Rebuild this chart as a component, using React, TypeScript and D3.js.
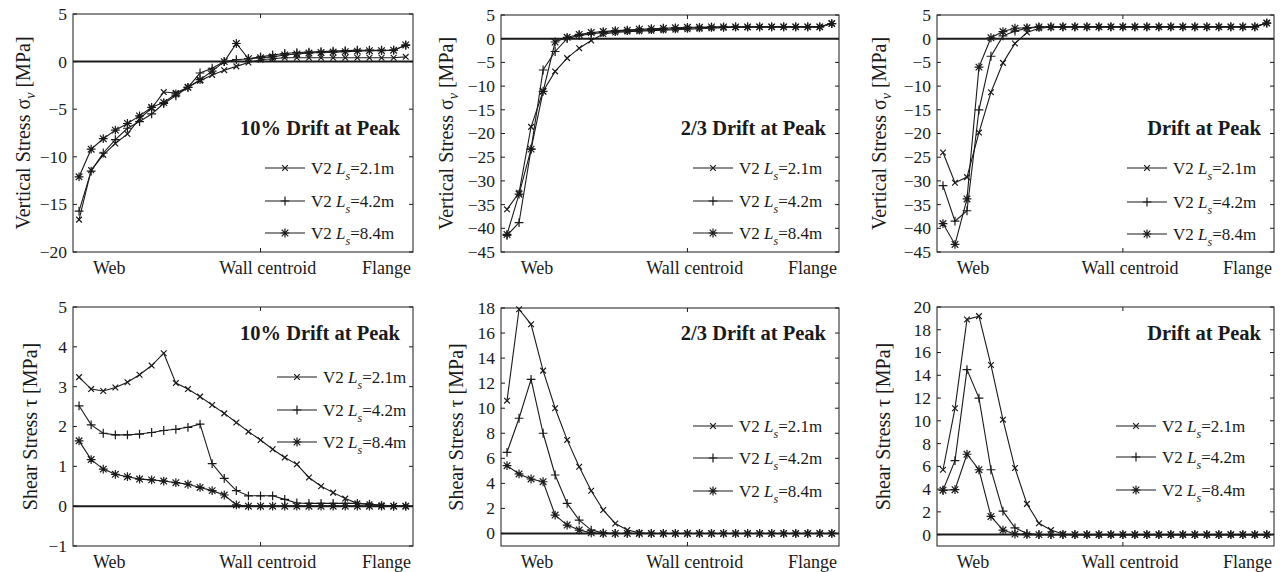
import React from "react";
import * as d3 from "d3";

// ---------- data ----------
const seriesNames = ["V2 Ls=2.1m", "V2 Ls=4.2m", "V2 Ls=8.4m"];
const seriesLabels = ["=2.1m", "=4.2m", "=8.4m"];
const markerTypes = ["x", "plus", "star"];
const xTickLabels = ["Web", "Wall centroid", "Flange"];
const xTickLabelPos = [2.5, 15.6, 25.4];
const xTickMark = 15;

// Panel 1: vertical stress, 10% drift at peak
const v10_21 = [-16.6, -11.4, -9.8, -8.6, -7.6, -6.0, -4.9, -3.2, -3.3, -2.7, -2.0, -1.4, -0.9, -0.5, -0.1, 0.2, 0.3, 0.4, 0.4, 0.4, 0.4, 0.4, 0.4, 0.4, 0.4, 0.4, 0.4, 0.5];
const v10_42 = [-15.7, -11.5, -9.6, -8.2, -7.0, -6.3, -5.5, -4.4, -3.6, -2.7, -1.2, -0.7, 0.0, 0.2, 0.3, 0.5, 0.7, 0.85, 0.95, 1.0, 1.05, 1.1, 1.15, 1.2, 1.2, 1.2, 1.2, 1.7];
const v10_84 = [-12.1, -9.2, -8.1, -7.2, -6.5, -5.7, -4.8, -4.3, -3.4, -2.7, -1.9, -1.0, 0.0, 1.9, 0.3, 0.4, 0.5, 0.7, 0.8, 0.9, 0.95, 1.0, 1.05, 1.1, 1.15, 1.15, 1.2, 1.75];

// Panel 2: vertical stress, 2/3 drift at peak
const v23_21 = [-36.0, -32.5, -18.6, -11.1, -6.9, -4.1, -2.0, -0.4, 1.0, 1.3, 1.5, 1.6, 1.7, 1.8, 1.9, 2.0, 2.1, 2.2, 2.3, 2.4, 2.4, 2.5, 2.5, 2.5, 2.5, 2.5, 2.5, 3.2];
const v23_42 = [-41.5, -38.8, -23.3, -6.6, -2.7, 0.0, 0.7, 1.0, 1.3, 1.5, 1.7, 1.8, 1.9, 2.0, 2.1, 2.2, 2.3, 2.4, 2.4, 2.5, 2.5, 2.5, 2.5, 2.5, 2.5, 2.5, 2.5, 3.2];
const v23_84 = [-41.3, -32.8, -23.3, -11.1, -0.7, 0.3, 0.9, 1.3, 1.5, 1.7, 1.8, 2.0, 2.1, 2.2, 2.3, 2.4, 2.4, 2.5, 2.5, 2.5, 2.5, 2.5, 2.5, 2.5, 2.5, 2.5, 2.5, 3.2];

// Panel 3: vertical stress, drift at peak
const vp_21 = [-24.0, -30.4, -29.2, -19.8, -11.3, -5.1, -1.0, 1.3, 2.2, 2.4, 2.5, 2.5, 2.5, 2.5, 2.5, 2.5, 2.5, 2.5, 2.5, 2.5, 2.5, 2.5, 2.5, 2.5, 2.5, 2.5, 2.5, 3.3];
const vp_42 = [-31.0, -38.5, -36.3, -15.0, -3.7, 0.6, 1.6, 2.2, 2.4, 2.5, 2.5, 2.5, 2.5, 2.5, 2.5, 2.5, 2.5, 2.5, 2.5, 2.5, 2.5, 2.5, 2.5, 2.5, 2.5, 2.5, 2.5, 3.3];
const vp_84 = [-39.0, -43.4, -33.8, -6.0, 0.2, 1.5, 2.2, 2.3, 2.5, 2.5, 2.5, 2.5, 2.5, 2.5, 2.5, 2.5, 2.5, 2.5, 2.5, 2.5, 2.5, 2.5, 2.5, 2.5, 2.5, 2.5, 2.5, 3.3];

// Panel 4: shear stress, 10% drift at peak
const s10_21 = [3.24, 2.94, 2.89, 2.98, 3.11, 3.30, 3.53, 3.84, 3.09, 2.94, 2.75, 2.54, 2.33, 2.10, 1.87, 1.66, 1.43, 1.22, 1.05, 0.72, 0.50, 0.34, 0.19, 0.07, 0.05, 0.02, 0.0, 0.0];
const s10_42 = [2.52, 2.04, 1.83, 1.79, 1.79, 1.81, 1.85, 1.90, 1.93, 1.98, 2.06, 1.07, 0.70, 0.39, 0.26, 0.26, 0.26, 0.17, 0.08, 0.07, 0.07, 0.07, 0.07, 0.07, 0.05, 0.02, 0.0, 0.0];
const s10_84 = [1.64, 1.17, 0.93, 0.80, 0.74, 0.68, 0.66, 0.63, 0.59, 0.55, 0.47, 0.39, 0.28, 0.03, 0.0, 0.0, 0.0, 0.0, 0.0, 0.0, 0.0, 0.0, 0.0, 0.0, 0.0, 0.0, 0.0, 0.0];

// Panel 5: shear stress, 2/3 drift at peak
const s23_21 = [10.6, 17.9, 16.7, 13.0, 10.0, 7.47, 5.33, 3.41, 1.87, 0.8, 0.27, 0.05, 0, 0, 0, 0, 0, 0, 0, 0, 0, 0, 0, 0, 0, 0, 0, 0];
const s23_42 = [6.48, 9.2, 12.3, 8.0, 4.67, 2.4, 1.07, 0.27, 0.05, 0, 0, 0, 0, 0, 0, 0, 0, 0, 0, 0, 0, 0, 0, 0, 0, 0, 0, 0];
const s23_84 = [5.41, 4.75, 4.35, 4.13, 1.47, 0.67, 0.27, 0.05, 0, 0, 0, 0, 0, 0, 0, 0, 0, 0, 0, 0, 0, 0, 0, 0, 0, 0, 0, 0];

// Panel 6: shear stress, drift at peak
const sp_21 = [5.7, 11.1, 18.9, 19.2, 14.9, 10.1, 5.85, 2.7, 1.0, 0.4, 0.05, 0, 0, 0, 0, 0, 0, 0, 0, 0, 0, 0, 0, 0, 0, 0, 0, 0];
const sp_42 = [3.9, 6.5, 14.5, 12.0, 5.7, 2.06, 0.6, 0.1, 0, 0, 0, 0, 0, 0, 0, 0, 0, 0, 0, 0, 0, 0, 0, 0, 0, 0, 0, 0];
const sp_84 = [3.9, 3.95, 7.06, 5.7, 1.6, 0.4, 0.05, 0, 0, 0, 0, 0, 0, 0, 0, 0, 0, 0, 0, 0, 0, 0, 0, 0, 0, 0, 0, 0];

const titles = ["10% Drift at Peak", "2/3 Drift at Peak", "Drift at Peak", "10% Drift at Peak", "2/3 Drift at Peak", "Drift at Peak"];
const yTicksVert10 = [-20, -15, -10, -5, 0, 5];
const yTicksVert = [-45, -40, -35, -30, -25, -20, -15, -10, -5, 0, 5];
const yTicksShear10 = [-1, 0, 1, 2, 3, 4, 5];
const yTicksShear23 = [0, 2, 4, 6, 8, 10, 12, 14, 16, 18];
const yTicksShearP = [0, 2, 4, 6, 8, 10, 12, 14, 16, 18, 20];

// ---------- layout ----------
type Panel = {
  left: number; right: number; top: number; bottom: number;
  yDomain: [number, number]; yTicks: number[]; series: number[][];
  title: string; kind: "v" | "s";
  legX: number; legRows: number[]; titleY: number; labelX: number;
};

const FONT = "'Liberation Serif', 'Times New Roman', serif";
const INK = "#1a1a1a";

const panels: Panel[] = [
  { left: 73, right: 413, top: 14, bottom: 252, yDomain: [-20, 5], yTicks: yTicksVert10, series: [v10_21, v10_42, v10_84], title: titles[0], kind: "v", legX: 265, legRows: [168, 201, 233], titleY: 135, labelX: 23 },
  { left: 501, right: 839, top: 15, bottom: 252, yDomain: [-45, 5], yTicks: yTicksVert, series: [v23_21, v23_42, v23_84], title: titles[1], kind: "v", legX: 693, legRows: [168, 201, 233], titleY: 135, labelX: 446 },
  { left: 937, right: 1274, top: 15, bottom: 252, yDomain: [-45, 5], yTicks: yTicksVert, series: [vp_21, vp_42, vp_84], title: titles[2], kind: "v", legX: 1127, legRows: [168, 202, 234], titleY: 135, labelX: 879 },
  { left: 73, right: 413, top: 307, bottom: 546, yDomain: [-1, 5], yTicks: yTicksShear10, series: [s10_21, s10_42, s10_84], title: titles[3], kind: "s", legX: 277, legRows: [377, 410, 442], titleY: 340, labelX: 30 },
  { left: 501, right: 839, top: 308, bottom: 546, yDomain: [-1, 18], yTicks: yTicksShear23, series: [s23_21, s23_42, s23_84], title: titles[4], kind: "s", legX: 693, legRows: [426, 458, 491], titleY: 340, labelX: 456 },
  { left: 937, right: 1274, top: 307, bottom: 546, yDomain: [-1, 20], yTicks: yTicksShearP, series: [sp_21, sp_42, sp_84], title: titles[5], kind: "s", legX: 1116, legRows: [426, 457, 490], titleY: 340, labelX: 883 },
];

function markerPath(type: string, r: number): string {
  const p = d3.path();
  if (type === "x" || type === "star") {
    const a = r * 0.75;
    p.moveTo(-a, -a); p.lineTo(a, a);
    p.moveTo(-a, a); p.lineTo(a, -a);
  }
  if (type === "plus" || type === "star") {
    p.moveTo(-r, 0); p.lineTo(r, 0);
    p.moveTo(0, -r); p.lineTo(0, r);
  }
  return p.toString();
}

function PanelView({ p }: { p: Panel }) {
  const x = d3.scaleLinear().domain([-0.5, 27.6]).range([p.left, p.right]);
  const y = d3.scaleLinear().domain(p.yDomain).range([p.bottom, p.top]);
  const line = d3.line<number>().x((_, i) => x(i)).y((d) => y(d));
  const fmt = (v: number) => (v < 0 ? "\u2212" + Math.abs(v) : String(v));
  const midY = (p.top + p.bottom) / 2;
  const xLabelY = p.bottom + 22;
  const tickLen = 4;
  return (
    <g>
      {/* zero line */}
      <line x1={p.left} x2={p.right} y1={y(0)} y2={y(0)} stroke={INK} strokeWidth={2} />
      {/* series */}
      {p.series.map((s, si) => (
        <g key={si}>
          <path d={line(s) || ""} fill="none" stroke={INK} strokeWidth={1.1} />
          {s.map((v, i) => (
            <path key={i} d={markerPath(markerTypes[si], si === 0 ? 3.8 : 4.4)} transform={`translate(${x(i)},${y(v)})`} stroke={INK} strokeWidth={1.2} fill="none" />
          ))}
        </g>
      ))}
      {/* frame */}
      <rect x={p.left} y={p.top} width={p.right - p.left} height={p.bottom - p.top} fill="none" stroke={INK} strokeWidth={1} />
      {/* y ticks */}
      {p.yTicks.map((t) => (
        <g key={t}>
          <line x1={p.left} x2={p.left + tickLen} y1={y(t)} y2={y(t)} stroke={INK} />
          <line x1={p.right} x2={p.right - tickLen} y1={y(t)} y2={y(t)} stroke={INK} />
          <text x={p.left - 6} y={y(t)} dy="0.34em" textAnchor="end" fontSize={17.5} fontFamily={FONT} fill={INK}>{fmt(t)}</text>
        </g>
      ))}
      {/* x tick mark */}
      <line x1={x(xTickMark)} x2={x(xTickMark)} y1={p.bottom} y2={p.bottom - tickLen} stroke={INK} />
      <line x1={x(xTickMark)} x2={x(xTickMark)} y1={p.top} y2={p.top + tickLen} stroke={INK} />
      {xTickLabels.map((lab, i) => (
        <text key={lab} x={x(xTickLabelPos[i])} y={xLabelY} textAnchor="middle" fontSize={18} fontFamily={FONT} fill={INK}>{lab}</text>
      ))}
      {/* y axis label */}
      <text transform={`translate(${p.labelX},${midY}) rotate(-90)`} textAnchor="middle" dy="0.35em" fontSize={20} fontFamily={FONT} fill={INK}>
        {p.kind === "v" ? (
          <>
            Vertical Stress σ<tspan fontStyle="italic" fontSize={14} dy={5}>ν</tspan>
            <tspan dy={-5}> [MPa]</tspan>
          </>
        ) : (
          <>Shear Stress  τ [MPa]</>
        )}
      </text>
      {/* title */}
      <text x={p.right - 13} y={p.titleY} textAnchor="end" fontSize={20.5} fontWeight="bold" fontFamily={FONT} fill={INK}>{p.title}</text>
      {/* legend */}
      {seriesNames.map((nm, si) => {
        const ry = p.legRows[si];
        return (
          <g key={nm}>
            <line x1={p.legX} x2={p.legX + 40} y1={ry} y2={ry} stroke={INK} strokeWidth={1.1} />
            <path d={markerPath(markerTypes[si], si === 0 ? 3.8 : 4.4)} transform={`translate(${p.legX + 20},${ry})`} stroke={INK} strokeWidth={1.2} fill="none" />
            <text x={p.legX + 46} y={ry} dy="0.33em" fontSize={17} fontFamily={FONT} fill={INK}>
              V2{"\u00a0"}<tspan fontStyle="italic">L</tspan>
              <tspan fontStyle="italic" fontSize={12} dy={6}>s</tspan>
              <tspan dy={-6}>{seriesLabels[si]}</tspan>
            </text>
          </g>
        );
      })}
    </g>
  );
}

export default function App() {
  return (
    <svg width={1282} height={572} style={{ position: "absolute", left: 0, top: 0, background: "#fff" }}>
      <rect width={1282} height={572} fill="#fff" />
      {panels.map((p, i) => (
        <PanelView key={i} p={p} />
      ))}
    </svg>
  );
}
